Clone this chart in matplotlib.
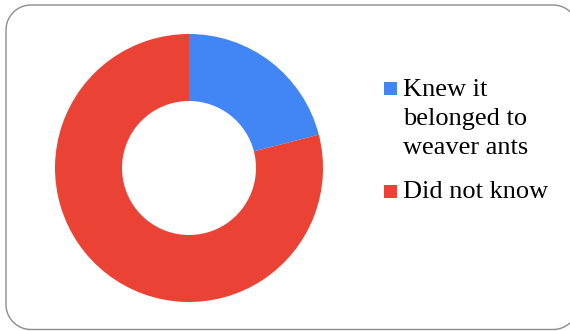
import matplotlib
matplotlib.use("Agg")
import numpy as np
import matplotlib.pyplot as plt
from matplotlib.patches import Rectangle, Polygon

# Survey responses: did respondents know the nest belonged to weaver ants?
categories = ["Knew it\nbelonged to\nweaver ants", "Did not know"]
shares = [21, 79]
colors = ["#4285F4", "#EA4335"]

W, H, DPI = 570, 331, 100
fig = plt.figure(figsize=(W / DPI, H / DPI), dpi=DPI)
fig.patch.set_facecolor("white")

# Full-figure overlay axes in pixel units (y grows downward)
bg = fig.add_axes([0, 0, 1, 1])
bg.set_xlim(0, W)
bg.set_ylim(H, 0)
bg.axis("off")


def rounded_outline(x0, y0, x1, y1, rad, n=24):
    """Vertices of a rectangle with circular corners."""
    pts = []
    corners = [(x1 - rad, y0 + rad, -90, 0), (x1 - rad, y1 - rad, 0, 90),
               (x0 + rad, y1 - rad, 90, 180), (x0 + rad, y0 + rad, 180, 270)]
    for ccx, ccy, a0, a1 in corners:
        t = np.radians(np.linspace(a0, a1, n))
        pts.extend(zip(ccx + rad * np.cos(t), ccy + rad * np.sin(t)))
    return pts


bg.add_patch(Polygon(rounded_outline(6, 5, 578, 329.5, 25), closed=True,
                     facecolor="none", edgecolor="#8c8c8c", linewidth=1.0,
                     clip_on=False))

# Doughnut
cx, cy, r = 189, 168, 134
ax = fig.add_axes([(cx - r) / W, (H - cy - r) / H, 2 * r / W, 2 * r / H])
ax.pie(shares, colors=colors, startangle=90, counterclock=False,
       radius=1.0, wedgeprops=dict(width=0.5, edgecolor="none"))
ax.set_xlim(-1, 1)
ax.set_ylim(-1, 1)
ax.set_aspect("equal")
ax.axis("off")

# Legend drawn as squares with serif labels, one text per line
font = dict(family="Liberation Serif", size=19, color="black")
line_step = 29.5
y = 95.5  # baseline of the current line
for label, col in zip(categories, colors):
    bg.add_patch(Rectangle((384, y - 13.5), 13, 13, facecolor=col,
                           edgecolor="none"))
    lines = label.split("\n")
    for k, line in enumerate(lines):
        bg.text(403, y + k * line_step, line, fontdict=font,
                ha="left", va="baseline")
    y += line_step * (len(lines) - 1) + 43.5

fig.savefig("out.png", dpi=DPI)
